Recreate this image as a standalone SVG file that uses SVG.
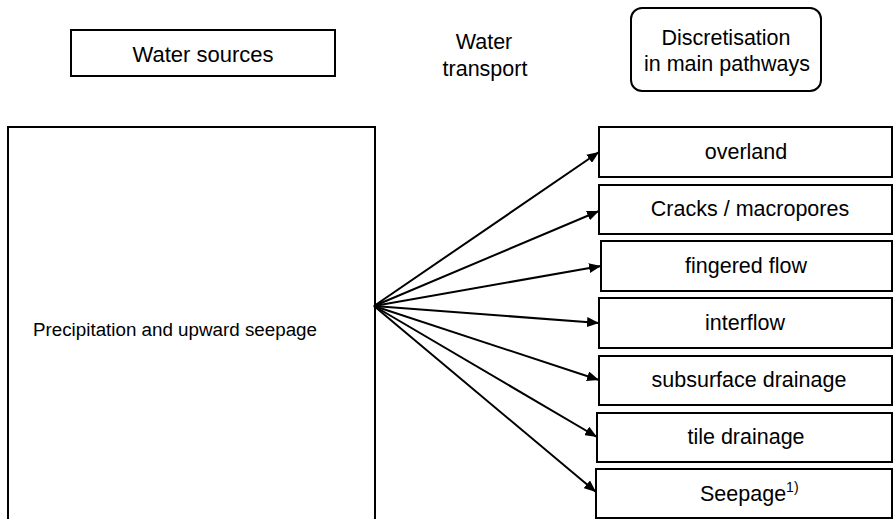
<svg xmlns="http://www.w3.org/2000/svg" width="894" height="519" viewBox="0 0 894 519">
<style>
.box{fill:#fff;stroke:#000;stroke-width:2}
.t{font-family:"Liberation Sans",Arial,sans-serif;font-size:21.5px;fill:#000;text-anchor:middle}
.a{font-family:"Liberation Sans",Arial,sans-serif;fill:#000}
.c{stroke:#000;stroke-width:2;fill:none;marker-end:url(#ah)}
</style>
<defs>
<marker id="ah" viewBox="0 0 12 10" refX="12" refY="5" markerWidth="12" markerHeight="10" markerUnits="userSpaceOnUse" orient="auto">
<path d="M0,0 L12,5 L0,10 z" fill="#000"/>
</marker>
</defs>
<rect width="894" height="519" fill="#fff"/>
<g id="water-sources">
<rect class="box" x="71" y="30" width="264" height="46"/>
<text class="a" x="203" y="62" font-size="22" text-anchor="middle">Water sources</text>
</g>
<g id="water-transport">
<text class="t" x="484" y="49">Water</text>
<text class="t" x="485" y="76">transport</text>
</g>
<g id="discretisation">
<rect class="box" x="631" y="8" width="190" height="83" rx="11"/>
<text class="t" x="726" y="45">Discretisation</text>
<text class="t" x="727" y="71">in main pathways</text>
</g>
<g id="precipitation">
<rect class="box" x="8" y="127" width="367" height="400"/>
<text class="a" x="33" y="336" font-size="18.8">Precipitation and upward seepage</text>
</g>
<g id="overland">
<rect class="box" x="599" y="127" width="293" height="50"/>
<text class="t" x="746" y="159">overland</text>
</g>
<g id="cracks">
<rect class="box" x="599" y="185" width="293" height="49"/>
<text class="t" x="750" y="216">Cracks / macropores</text>
</g>
<g id="fingered">
<rect class="box" x="601" y="241" width="291" height="50"/>
<text class="t" x="746" y="273">fingered flow</text>
</g>
<g id="interflow">
<rect class="box" x="599" y="298" width="293" height="50"/>
<text class="t" x="745" y="330">interflow</text>
</g>
<g id="subsurface">
<rect class="box" x="599" y="356" width="293" height="49"/>
<text class="t" x="749" y="387">subsurface drainage</text>
</g>
<g id="tile">
<rect class="box" x="597" y="413" width="295" height="49"/>
<text class="t" x="746" y="444">tile drainage</text>
</g>
<g id="seepage">
<rect class="box" x="596" y="469" width="296" height="49"/>
<text class="a" x="700" y="501" font-size="21.5">Seepage<tspan font-size="14" dy="-9">1)</tspan></text>
</g>
<g id="connectors">
<line class="c" x1="374" y1="306" x2="599" y2="152"/>
<line class="c" x1="374" y1="306" x2="599" y2="211"/>
<line class="c" x1="374" y1="306" x2="601" y2="266"/>
<line class="c" x1="374" y1="306" x2="599" y2="323"/>
<line class="c" x1="374" y1="306" x2="599" y2="380"/>
<line class="c" x1="374" y1="306" x2="597" y2="437"/>
<line class="c" x1="374" y1="306" x2="596" y2="492"/>
</g>
</svg>
